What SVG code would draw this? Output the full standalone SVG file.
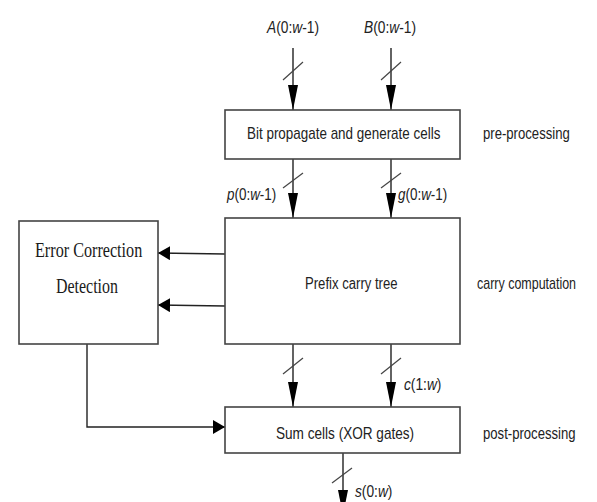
<svg xmlns="http://www.w3.org/2000/svg" width="597" height="502" viewBox="0 0 597 502">
<style>
.box{fill:#fff;stroke:#444;stroke-width:1.6}
.ln{fill:none;stroke:#222;stroke-width:1.4}
.sl{fill:none;stroke:#444;stroke-width:1.2}
.t{font-family:"Liberation Sans",Arial,sans-serif;font-size:16px;fill:#222}
.s{font-family:"Liberation Serif","Times New Roman",serif;font-size:21px;fill:#1a1a1a}
.i{font-style:italic}
</style>
<defs>
<marker id="av" markerUnits="userSpaceOnUse" markerWidth="25" markerHeight="10" refX="25" refY="5" orient="auto">
<path d="M0,0 L25,5 L0,10 z" fill="#000"/>
</marker>
<marker id="ah" markerUnits="userSpaceOnUse" markerWidth="12" markerHeight="14" refX="12" refY="7" orient="auto">
<path d="M0,0 L12,7 L0,14 z" fill="#000"/>
</marker>
</defs>
<rect width="597" height="502" fill="#fff"/>

<g id="connectors">
<line class="ln" x1="293" y1="48" x2="293" y2="110" marker-end="url(#av)"/>
<line class="ln" x1="391" y1="48" x2="391" y2="110" marker-end="url(#av)"/>
<line class="sl" x1="283" y1="80" x2="303" y2="62"/>
<line class="sl" x1="381" y1="80" x2="401" y2="62"/>
<line class="ln" x1="293" y1="159" x2="293" y2="218" marker-end="url(#av)"/>
<line class="ln" x1="391" y1="159" x2="391" y2="218" marker-end="url(#av)"/>
<line class="sl" x1="283" y1="188" x2="303" y2="173"/>
<line class="sl" x1="381" y1="188" x2="401" y2="173"/>
<line class="ln" x1="293" y1="344" x2="293" y2="407" marker-end="url(#av)"/>
<line class="ln" x1="391" y1="344" x2="391" y2="407" marker-end="url(#av)"/>
<line class="sl" x1="283" y1="374" x2="303" y2="358"/>
<line class="sl" x1="381" y1="374" x2="401" y2="358"/>
<line class="ln" x1="343" y1="453" x2="343" y2="515" marker-end="url(#av)"/>
<line class="sl" x1="332" y1="483" x2="352" y2="468"/>
<line class="ln" x1="225" y1="254" x2="158" y2="253" marker-end="url(#ah)"/>
<line class="ln" x1="225" y1="306" x2="158" y2="305" marker-end="url(#ah)"/>
<polyline class="ln" points="87,344 87,427 225,427" marker-end="url(#ah)"/>
</g>

<g id="label-a"><text class="t" transform="translate(267,33) scale(0.86,1)"><tspan class="i">A</tspan>(0:<tspan class="i">w</tspan>-1)</text></g>
<g id="label-b"><text class="t" transform="translate(364,33) scale(0.86,1)"><tspan class="i">B</tspan>(0:<tspan class="i">w</tspan>-1)</text></g>

<g id="pre">
<rect class="box" x="225" y="110" width="235" height="49"/>
<text class="t" transform="translate(247,139) scale(0.84,1)">Bit propagate and generate cells</text>
</g>
<g id="pre-label"><text class="t" transform="translate(483,139) scale(0.82,1)">pre-processing</text></g>

<g id="label-p"><text class="t" transform="translate(227,200) scale(0.84,1)"><tspan class="i">p</tspan>(0:<tspan class="i">w</tspan>-1)</text></g>
<g id="label-g"><text class="t" transform="translate(398,200) scale(0.84,1)"><tspan class="i">g</tspan>(0:<tspan class="i">w</tspan>-1)</text></g>

<g id="prefix">
<rect class="box" x="225" y="218" width="235" height="126"/>
<text class="t" transform="translate(305,289) scale(0.82,1)">Prefix carry tree</text>
</g>
<g id="carry-label"><text class="t" transform="translate(477,289) scale(0.78,1)">carry computation</text></g>

<g id="error">
<rect class="box" x="19" y="221" width="139" height="123"/>
<text class="s" transform="translate(35,257) scale(0.77,1)">Error Correction</text>
<text class="s" transform="translate(56,293) scale(0.76,1)">Detection</text>
</g>

<g id="label-c"><text class="t" transform="translate(404,390) scale(0.86,1)"><tspan class="i">c</tspan>(1:<tspan class="i">w</tspan>)</text></g>

<g id="sum">
<rect class="box" x="225" y="407" width="235" height="46"/>
<text class="t" transform="translate(276,439) scale(0.85,1)">Sum cells (XOR gates)</text>
</g>
<g id="post-label"><text class="t" transform="translate(483,439) scale(0.82,1)">post-processing</text></g>

<g id="label-s"><text class="t" transform="translate(355,497) scale(0.86,1)"><tspan class="i">s</tspan>(0:<tspan class="i">w</tspan>)</text></g>
</svg>
